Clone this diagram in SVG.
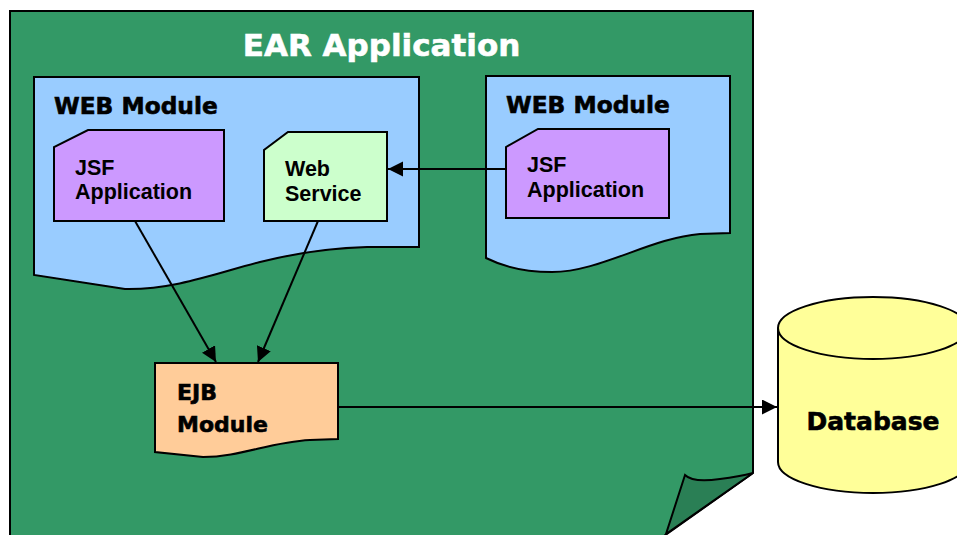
<svg xmlns="http://www.w3.org/2000/svg" width="957" height="535" viewBox="0 0 957 535">
<defs>
<style>
.ln{fill:none;stroke:#000;stroke-width:2}
.sh{stroke:#000;stroke-width:2;stroke-linejoin:miter}
.hd{font-family:"DejaVu Sans",Verdana,sans-serif;font-weight:bold;fill:#000;stroke:#000;stroke-width:0.6}
.tx{font-family:"Liberation Sans",Arial,sans-serif;font-weight:bold;font-size:21.5px;fill:#000}
</style>
<marker id="ah" markerUnits="userSpaceOnUse" markerWidth="16" markerHeight="16" refX="15" refY="7.5" orient="auto">
<path d="M0,0 L15,7.5 L0,15 Z" fill="#000"/>
</marker>
</defs>
<rect width="957" height="535" fill="#fff"/>
<g id="ear">
<path class="sh" fill="#339966" d="M10,11 H753 V473 L664,536 H10 Z"/>
<path class="sh" fill="#2A7F55" d="M685,475 C690,480 700,482 720,479 C735,477 745,475 753,473 L666,534 Z"/>
<text class="hd" x="381.5" y="56" font-size="31" style="fill:#fff;stroke:#fff" text-anchor="middle">EAR Application</text>
</g>
<g id="web1">
<path class="sh" fill="#99CCFF" d="M34,77 H419 V247 H367 C330,248 300,252 260,262 C220,272 175,290 125,289 L34,275 Z"/>
<text class="hd" x="54" y="114" font-size="23.3">WEB Module</text>
</g>
<g id="jsf1">
<path class="sh" fill="#CC99FF" d="M88,130 H224 V221 H54 V147 Z"/>
<text class="tx" x="75" y="175">JSF</text>
<text class="tx" x="75" y="199">Application</text>
</g>
<g id="ws">
<path class="sh" fill="#CCFFCC" d="M288,132 H387 V221 H264 V150 Z"/>
<text class="tx" x="285" y="176">Web</text>
<text class="tx" x="285" y="201">Service</text>
</g>
<g id="web2">
<path class="sh" fill="#99CCFF" d="M486,76 H730 V233 L700,234 C650,238 600,272 552,272 C520,272 500,265 486,258 Z"/>
<text class="hd" x="506" y="113" font-size="23.3">WEB Module</text>
</g>
<g id="jsf2">
<path class="sh" fill="#CC99FF" d="M538,129 H669 V218 H506 V147 Z"/>
<text class="tx" x="527" y="172">JSF</text>
<text class="tx" x="527" y="197">Application</text>
</g>
<g id="ejb">
<path class="sh" fill="#FFCC99" d="M155,363 H338 V439 L310,440 C270,442 240,457 203,457 L155,452 Z"/>
<text class="hd" x="177" y="400" font-size="22">EJB</text>
<text class="hd" x="177" y="432" font-size="22">Module</text>
</g>
<g id="db">
<path class="sh" fill="#FFFF99" d="M778,328 V462 A95,31 0 0 0 968,462 V328"/>
<ellipse class="sh" fill="#FFFF99" cx="873" cy="328" rx="95" ry="31"/>
<text class="hd" x="873" y="430" font-size="25" text-anchor="middle">Database</text>
</g>
<g id="connectors">
<line class="ln" x1="507" y1="169" x2="388" y2="169" marker-end="url(#ah)"/>
<line class="ln" x1="135" y1="221" x2="216" y2="362" marker-end="url(#ah)"/>
<line class="ln" x1="318" y1="221" x2="258" y2="362" marker-end="url(#ah)"/>
<line class="ln" x1="338" y1="407" x2="777" y2="407" marker-end="url(#ah)"/>
</g>
</svg>
